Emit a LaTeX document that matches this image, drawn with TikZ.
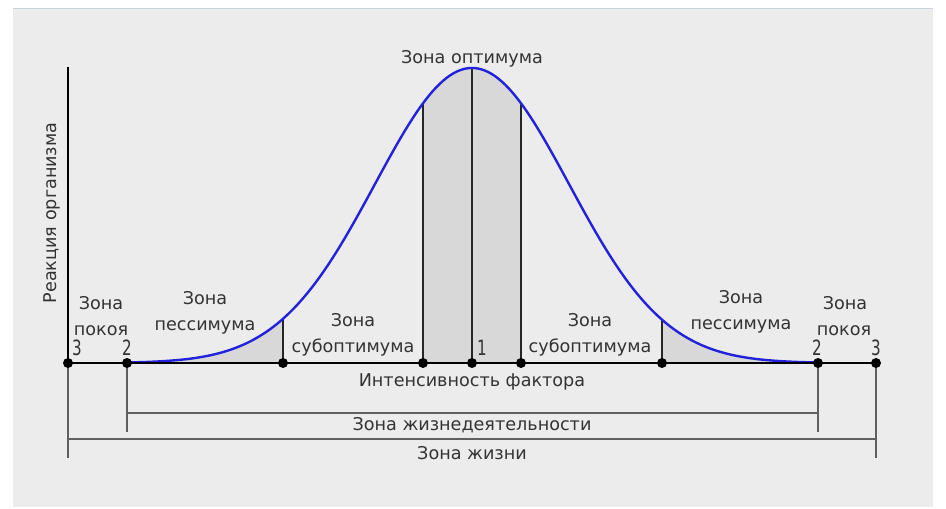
\documentclass[tikz,border=0pt]{standalone}
\usepackage{fontspec}
\usepackage{graphicx}
\setmainfont{DejaVu Sans}
\definecolor{bgc}{HTML}{ECECEC}
\definecolor{topc}{HTML}{C9D1DB}
\definecolor{txt}{HTML}{333333}
\definecolor{dimc}{HTML}{606060}
\definecolor{curvec}{HTML}{2222DD}
\definecolor{shadec}{HTML}{D8D8D8}
\newcommand{\digit}[1]{\scalebox{0.72}[1]{\fontsize{21}{23}\selectfont #1}}
\begin{document}
\begin{tikzpicture}[x=1pt,y=-1pt,
  lbl/.style={font=\fontsize{17.6}{19}\selectfont, text=txt, inner sep=0pt, anchor=base},
  dot/.style={circle, fill=black, inner sep=0pt, minimum size=10pt},
  axisline/.style={line width=2.6pt, black},
  zoneline/.style={line width=1.9pt, black!85},
  dimline/.style={line width=1.2pt, dimc},
  curveline/.style={line width=2.4pt, curvec},
  shadefill/.style={fill=shadec}]
\useasboundingbox (0,0) rectangle (946,509);
\fill[bgc] (13,8) rectangle (933,507);
\draw[line width=1pt, topc] (13,8.5) -- (933,8.5);
% base coordinates
\coordinate (c3l) at (68,363);
\coordinate (c2l) at (127,363);
\coordinate (ca) at (283,363);
\coordinate (cb) at (423,363);
\coordinate (c1) at (472,363);
\coordinate (cc) at (521,363);
\coordinate (cd) at (662,363);
\coordinate (c2r) at (818,363);
\coordinate (c3r) at (876,363);
\coordinate (ytop) at (68,67);
\coordinate (ta) at (283,{363-295*exp(-0.5*((283-472)/97)^2)});
\coordinate (tb) at (423,{363-295*exp(-0.5*((423-472)/97)^2)});
\coordinate (t1) at (472,68);
\coordinate (tc) at (521,{363-295*exp(-0.5*((521-472)/97)^2)});
\coordinate (td) at (662,{363-295*exp(-0.5*((662-472)/97)^2)});
% shaded areas
\fill[shadefill] (c2l) -- plot[domain=127:283, samples=60] (\x,{363-295*exp(-0.5*((\x-472)/97)^2)}) -- (ca) -- cycle;
\fill[shadefill] (cb) -- plot[domain=423:521, samples=40] (\x,{363-295*exp(-0.5*((\x-472)/97)^2)}) -- (cc) -- cycle;
\fill[shadefill] (cd) -- plot[domain=662:818, samples=60] (\x,{363-295*exp(-0.5*((\x-472)/97)^2)}) -- (c2r) -- cycle;
% dimension lines
\coordinate (d2l) at (127,432);
\coordinate (d2r) at (818,432);
\coordinate (h2l) at (127,413);
\coordinate (h2r) at (818,413);
\coordinate (d3l) at (68,458);
\coordinate (d3r) at (876,458);
\coordinate (h3l) at (68,439);
\coordinate (h3r) at (876,439);
\draw[dimline] (c2l) -- (d2l);
\draw[dimline] (c2r) -- (d2r);
\draw[dimline] (h2l) -- (h2r);
\draw[dimline] (c3l) -- (d3l);
\draw[dimline] (c3r) -- (d3r);
\draw[dimline] (h3l) -- (h3r);
% zone verticals
\draw[zoneline] (ca) -- (ta);
\draw[zoneline] (cb) -- (tb);
\draw[zoneline] (c1) -- (t1);
\draw[zoneline] (cc) -- (tc);
\draw[zoneline] (cd) -- (td);
% curve
\draw[curveline] plot[domain=127:818, samples=200] (\x,{363-295*exp(-0.5*((\x-472)/97)^2)});
% axes
\draw[axisline] (c3l) -- (ytop);
\draw[axisline] (c3l) -- (c3r);
% dots
\node[dot] (p3l) at (c3l) {};
\node[dot] (p2l) at (c2l) {};
\node[dot] (pa) at (ca) {};
\node[dot] (pb) at (cb) {};
\node[dot] (p1) at (c1) {};
\node[dot] (pc) at (cc) {};
\node[dot] (pd) at (cd) {};
\node[dot] (p2r) at (c2r) {};
\node[dot] (p3r) at (c3r) {};
% labels
\node[lbl] (opt) at (472,63) {Зона оптимума};
\node[lbl, rotate=90, anchor=center] (yl) at (52,213) {Реакция организма};
\node[lbl] (pokl1) at (101,309) {Зона};
\node[lbl] (pokl2) at (101,335) {покоя};
\node[lbl] (n3l) at (77,355) {\digit{3}};
\node[lbl] (n2l) at (127,355) {\digit{2}};
\node[lbl] (pesl1) at (205,304) {Зона};
\node[lbl] (pesl2) at (205,330) {пессимума};
\node[lbl] (subl1) at (353,326) {Зона};
\node[lbl] (subl2) at (353,352) {субоптимума};
\node[lbl] (n1) at (482,355) {\digit{1}};
\node[lbl] (subr1) at (590,326) {Зона};
\node[lbl] (subr2) at (590,352) {субоптимума};
\node[lbl] (pesr1) at (741,303) {Зона};
\node[lbl] (pesr2) at (741,329) {пессимума};
\node[lbl] (pokr1) at (845,309) {Зона};
\node[lbl] (pokr2) at (844,335) {покоя};
\node[lbl] (n2r) at (817,355) {\digit{2}};
\node[lbl] (n3r) at (876,355) {\digit{3}};
\node[lbl] (int) at (472,386) {Интенсивность фактора};
\node[lbl] (zhd) at (472,430) {Зона жизнедеятельности};
\node[lbl] (zh) at (472,459) {Зона жизни};
\end{tikzpicture}
\end{document}
